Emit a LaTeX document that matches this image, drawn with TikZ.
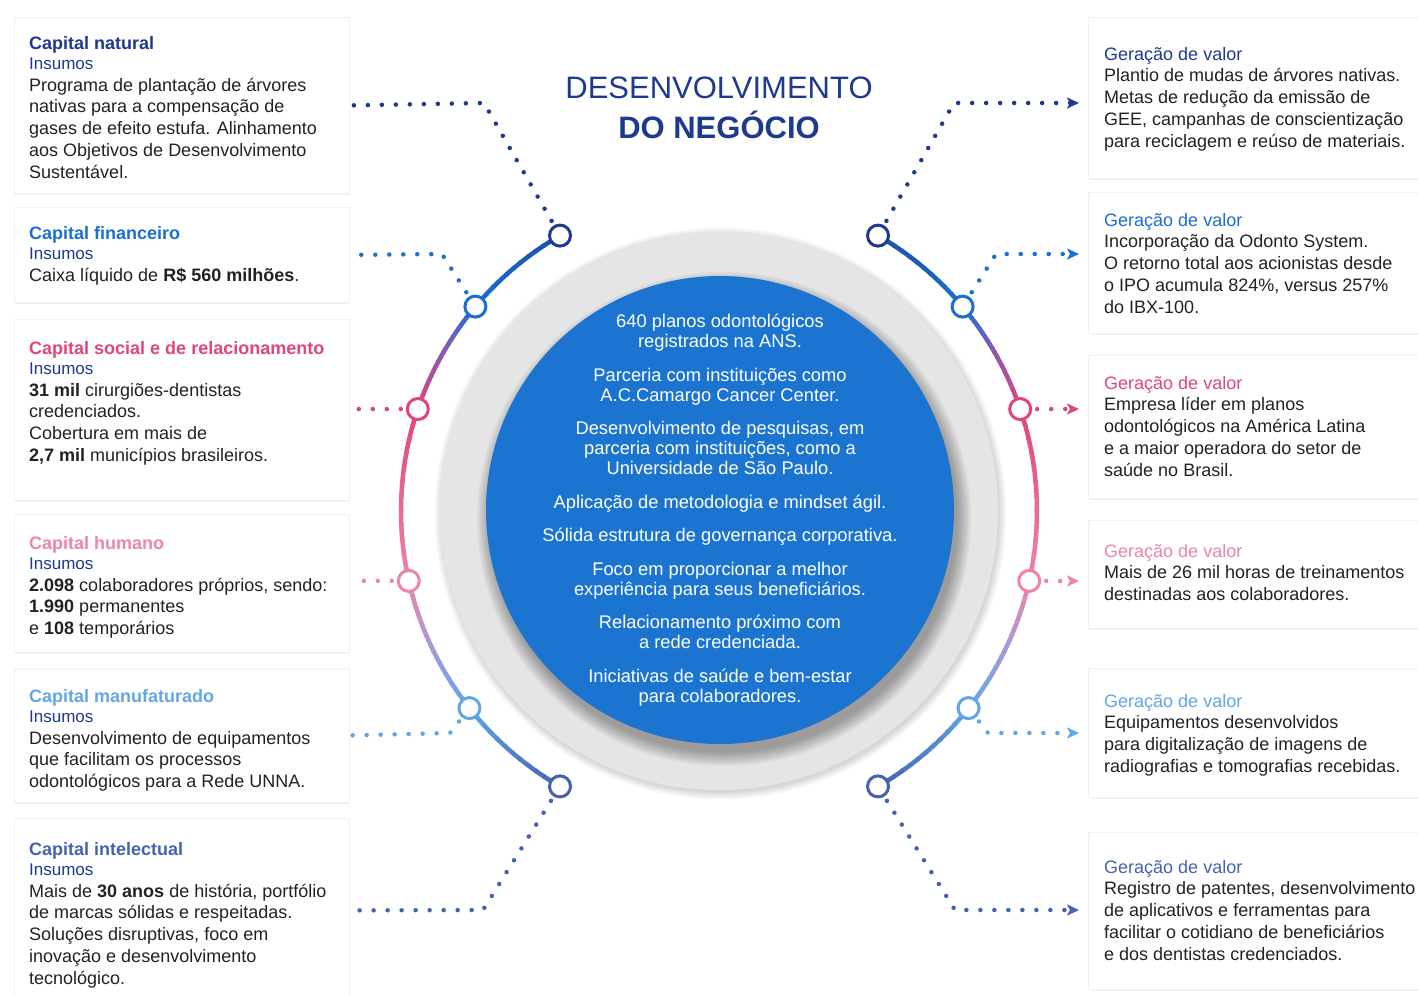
\documentclass[tikz,border=0pt]{standalone}
\usepackage{fontspec}
\setmainfont{Liberation Sans}
\usetikzlibrary{arrows.meta,calc,shadows}
\definecolor{navy}{HTML}{1E3A8F}
\definecolor{cblue}{HTML}{1B6FD0}
\definecolor{cpink}{HTML}{E0457B}
\definecolor{clpink}{HTML}{EE84A8}
\definecolor{clblue}{HTML}{62A6E8}
\definecolor{cslate}{HTML}{4562B0}
\definecolor{cpurple}{HTML}{8A5AAE}
\definecolor{clav}{HTML}{A99AD8}
\definecolor{ctop}{HTML}{1C4FA8}
\definecolor{tdark}{HTML}{222222}
\definecolor{bigblue}{HTML}{1B75D0}
\definecolor{ringgray}{HTML}{E5E5E5}
\definecolor{ringlight}{HTML}{EEEEEE}
\pgfdeclareradialshading{ringshade}{\pgfpoint{0bp}{0bp}}{color(0bp)=(ringgray); color(42bp)=(ringgray); color(48bp)=(ringlight); color(50bp)=(ringgray!80!black!20!white)}
\newcommand\gradarc[4]{%
  \foreach \kk in {0,...,11}{%
    \pgfmathsetmacro\arcA{#1+(#2-#1)*\kk/12}%
    \pgfmathsetmacro\arcB{#1+(#2-#1)*(\kk+1.25)/12}%
    \pgfmathtruncatemacro\mixp{100-(\kk+0.5)*100/12}%
    \draw[arcline, color={#3!\mixp!#4}] (C) ++(\arcA:318) arc[start angle=\arcA, end angle=\arcB, radius=318];
  }}
\begin{document}
\begin{tikzpicture}[x=1pt,y=1pt,
  box/.style={draw=black!6, line width=0.8pt, fill=white, inner sep=0pt, anchor=north west,
    drop shadow={opacity=0.10, shadow xshift=1pt, shadow yshift=-2pt}},
  txt/.style={anchor=north west, inner sep=0pt, align=left, font=\fontsize{18}{21.7}\selectfont, text=tdark},
  arcline/.style={line width=4.5pt, line cap=butt},
  ringnode/.style={circle, draw=#1, line width=3pt, fill=white, minimum size=21pt, inner sep=0pt},
  dotline/.style={line width=4.5pt, dash pattern=on 0pt off 14pt, line cap=round, shorten <=5pt},
  tip/.style={-{Stealth[length=12pt,width=11pt,inset=3pt]}}
]
\fill[white] (0,0) rectangle (1418,-994);
\useasboundingbox (0,0) rectangle (1418,-994);
\coordinate (C) at (719,-511);

% ---- left boxes
\node[box, minimum width=335pt, minimum height=176pt] (b1) at (14,-17) {};
\node[box, minimum width=335pt, minimum height=95pt] (b2) at (14,-207) {};
\node[box, minimum width=335pt, minimum height=181pt] (b3) at (14,-319) {};
\node[box, minimum width=335pt, minimum height=138pt] (b4) at (14,-514) {};
\node[box, minimum width=335pt, minimum height=134pt] (b5) at (14,-668) {};
\node[box, minimum width=335pt, minimum height=184pt] (b6) at (14,-818) {};
% ---- right boxes
\node[box, minimum width=345pt, minimum height=161pt] (r1) at (1088,-17) {};
\node[box, minimum width=345pt, minimum height=141pt] (r2) at (1088,-192) {};
\node[box, minimum width=345pt, minimum height=143pt] (r3) at (1088,-355) {};
\node[box, minimum width=345pt, minimum height=108pt] (r4) at (1088,-520) {};
\node[box, minimum width=345pt, minimum height=129pt] (r5) at (1088,-668) {};
\node[box, minimum width=345pt, minimum height=157pt] (r6) at (1088,-832) {};

% ---- left texts
\node[txt] (t1) at (29,-36) {{\bfseries\color{navy}Capital natural}\\[-1.7pt]
{\fontsize{17}{20}\selectfont\color{navy}Insumos}\\[0.3pt]
Programa de plantação de árvores\\ nativas para a compensação de\\ gases de efeito estufa. Alinhamento\\ aos Objetivos de Desenvolvimento\\ Sustentável.};
\node[txt] (t2) at (29,-226) {{\bfseries\color{cblue}Capital financeiro}\\[-1.7pt]
{\fontsize{17}{20}\selectfont\color{navy}Insumos}\\[0.3pt]
Caixa líquido de \textbf{R\$ 560 milhões}.};
\node[txt] (t3) at (29,-341) {{\bfseries\color{cpink}Capital social e de relacionamento}\\[-1.7pt]
{\fontsize{17}{20}\selectfont\color{navy}Insumos}\\[0.3pt]
\textbf{31 mil} cirurgiões-dentistas\\ credenciados.\\ Cobertura em mais de\\ \textbf{2,7 mil} municípios brasileiros.};
\node[txt] (t4) at (29,-536) {{\bfseries\color{clpink}Capital humano}\\[-1.7pt]
{\fontsize{17}{20}\selectfont\color{navy}Insumos}\\[0.3pt]
\textbf{2.098} colaboradores próprios, sendo:\\ \textbf{1.990} permanentes\\ e \textbf{108} temporários};
\node[txt] (t5) at (29,-689) {{\bfseries\color{clblue}Capital manufaturado}\\[-1.7pt]
{\fontsize{17}{20}\selectfont\color{navy}Insumos}\\[0.3pt]
Desenvolvimento de equipamentos\\ que facilitam os processos\\ odontológicos para a Rede UNNA.};
\node[txt] (t6) at (29,-842) {{\bfseries\color{cslate}Capital intelectual}\\[-1.7pt]
{\fontsize{17}{20}\selectfont\color{navy}Insumos}\\[0.3pt]
Mais de \textbf{30 anos} de história, portfólio\\ de marcas sólidas e respeitadas.\\ Soluções disruptivas, foco em\\ inovação e desenvolvimento\\ tecnológico.};

% ---- right texts
\node[txt] (s1) at (1104,-47) {{\color{navy}Geração de valor}\\
Plantio de mudas de árvores nativas.\\ Metas de redução da emissão de\\ GEE, campanhas de conscientização\\ para reciclagem e reúso de materiais.};
\node[txt] (s2) at (1104,-213) {{\color{cblue}Geração de valor}\\
Incorporação da Odonto System.\\ O retorno total aos acionistas desde\\ o IPO acumula 824\%, versus 257\%\\ do IBX-100.};
\node[txt] (s3) at (1104,-376) {{\color{cpink}Geração de valor}\\
Empresa líder em planos\\ odontológicos na América Latina\\ e a maior operadora do setor de\\ saúde no Brasil.};
\node[txt] (s4) at (1104,-544) {{\color{clpink}Geração de valor}\\
Mais de 26 mil horas de treinamentos\\ destinadas aos colaboradores.};
\node[txt] (s5) at (1104,-694) {{\color{clblue}Geração de valor}\\
Equipamentos desenvolvidos\\ para digitalização de imagens de\\ radiografias e tomografias recebidas.};
\node[txt] (s6) at (1104,-860) {{\color{cslate}Geração de valor}\\
Registro de patentes, desenvolvimento\\ de aplicativos e ferramentas para\\ facilitar o cotidiano de beneficiários\\ e dos dentistas credenciados.};

% ---- title
\node[align=center, inner sep=0pt, text=navy, font=\fontsize{31}{40}\selectfont] (title) at (719,-108)
 {DESENVOLVIMENTO\\ \textbf{DO NEGÓCIO}};

% ---- central disc
\foreach \i in {1,...,8}{\fill[black, opacity=0.018] ($(C)+(1.5,-2.5)$) circle ({278+\i});}
\shade[shading=ringshade] (C) circle (279);
\foreach \i in {1,...,10}{\fill[black, opacity=0.035] ($(C)+(5,-8)$) circle ({232+1.5*\i});}
\fill[bigblue] ($(C)+(1,1)$) circle (234);
\node[align=center, inner sep=0pt, text=white, font=\fontsize{18.3}{20}\selectfont] (ctext) at (720,-510)
{640 planos odontológicos\\ registrados na ANS.\\[13.5pt]
Parceria com instituições como\\ A.C.Camargo Cancer Center.\\[13.5pt]
Desenvolvimento de pesquisas, em\\ parceria com instituições, como a\\ Universidade de São Paulo.\\[13.5pt]
Aplicação de metodologia e mindset ágil.\\[13.5pt]
Sólida estrutura de governança corporativa.\\[13.5pt]
Foco em proporcionar a melhor\\ experiência para seus beneficiários.\\[13.5pt]
Relacionamento próximo com\\ a rede credenciada.\\[13.5pt]
Iniciativas de saúde e bem-estar\\ para colaboradores.};

% ---- gradient arcs
\gradarc{120}{140}{ctop}{cblue}
\gradarc{140}{150}{cblue}{cpurple}
\gradarc{150}{161.3}{cpurple}{cpink}
\gradarc{161.3}{192.7}{cpink}{clpink}
\gradarc{192.7}{205}{clpink}{clav}
\gradarc{205}{218.3}{clav}{clblue}
\gradarc{218.3}{240}{clblue}{cslate}
\gradarc{60}{40}{ctop}{cblue}
\gradarc{40}{30}{cblue}{cpurple}
\gradarc{30}{18.7}{cpurple}{cpink}
\gradarc{18.7}{-12.7}{cpink}{clpink}
\gradarc{-12.7}{-25}{clpink}{clav}
\gradarc{-25}{-38.3}{clav}{clblue}
\gradarc{-38.3}{-60}{clblue}{cslate}

% ---- ring nodes
\path (C) ++(120:318) node[ringnode=navy] (L1) {};
\path (C) ++(140:318) node[ringnode=cblue] (L2) {};
\path (C) ++(161.3:318) node[ringnode=cpink] (L3) {};
\path (C) ++(192.7:318) node[ringnode=clpink] (L4) {};
\path (C) ++(218.3:318) node[ringnode=clblue] (L5) {};
\path (C) ++(240:318) node[ringnode=cslate] (L6) {};
\path (C) ++(60:318) node[ringnode=navy] (R1) {};
\path (C) ++(40:318) node[ringnode=cblue] (R2) {};
\path (C) ++(18.7:318) node[ringnode=cpink] (R3) {};
\path (C) ++(-12.7:318) node[ringnode=clpink] (R4) {};
\path (C) ++(-38.3:318) node[ringnode=clblue] (R5) {};
\path (C) ++(-60:318) node[ringnode=cslate] (R6) {};

% ---- bend and end coordinates
\coordinate (kL1) at (484,-103);
\coordinate (kL2) at (442,-254);
\coordinate (kL5) at (450,-733);
\coordinate (kL6) at (483,-910);
\coordinate (kR1) at (954,-103);
\coordinate (kR2) at (996,-254);
\coordinate (kR5) at (988,-733);
\coordinate (kR6) at (955,-910);
\coordinate (aR1) at (1079,-103);
\coordinate (aR2) at (1079,-254);
\coordinate (aR3) at (1079,-409);
\coordinate (aR4) at (1079,-581);
\coordinate (aR5) at (1079,-733);
\coordinate (aR6) at (1079,-910);

% ---- left connectors
\draw[dotline, navy] (L1) -- (kL1) -- (b1.east);
\draw[dotline, cblue] (L2) -- (kL2) -- (b2.east);
\draw[dotline, cpink] (L3) -- (b3.east |- L3);
\draw[dotline, clpink] (L4) -- (b4.east |- L4);
\draw[dotline, clblue] (L5) -- (kL5) -- (b5.east);
\draw[dotline, cslate] (L6) -- (kL6) -- (b6.east);
% ---- right connectors
\draw[dotline, tip, navy] (R1) -- (kR1) -- (aR1);
\draw[dotline, tip, cblue] (R2) -- (kR2) -- (aR2);
\draw[dotline, tip, cpink] (R3) -- (aR3);
\draw[dotline, tip, clpink] (R4) -- (aR4);
\draw[dotline, tip, clblue] (R5) -- (kR5) -- (aR5);
\draw[dotline, tip, cslate] (R6) -- (kR6) -- (aR6);
\end{tikzpicture}
\end{document}
